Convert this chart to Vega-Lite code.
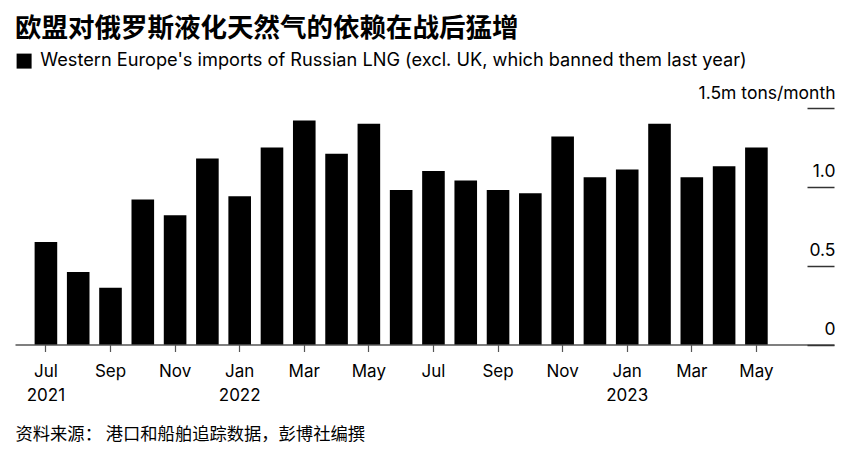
{
  "$schema": "https://vega.github.io/schema/vega-lite/v6.json",
  "width": 819,
  "height": 236.5,
  "autosize": {"type": "none"},
  "padding": {"left": 15, "top": 108, "right": 28, "bottom": 115.5},
  "background": "#ffffff",
  "title": {
    "text": "欧盟对俄罗斯液化天然气的依赖在战后猛增",
    "anchor": "start",
    "frame": "group",
    "font": "Noto Sans CJK SC",
    "fontSize": 26.5,
    "fontWeight": "bold",
    "color": "#000000",
    "offset": 10
  },
  "data": {
    "values": [
      {"month": "2021-07", "value": 0.65, "series": "Western Europe's imports of Russian LNG (excl. UK, which banned them last year)"},
      {"month": "2021-08", "value": 0.46, "series": "Western Europe's imports of Russian LNG (excl. UK, which banned them last year)"},
      {"month": "2021-09", "value": 0.36, "series": "Western Europe's imports of Russian LNG (excl. UK, which banned them last year)"},
      {"month": "2021-10", "value": 0.92, "series": "Western Europe's imports of Russian LNG (excl. UK, which banned them last year)"},
      {"month": "2021-11", "value": 0.82, "series": "Western Europe's imports of Russian LNG (excl. UK, which banned them last year)"},
      {"month": "2021-12", "value": 1.18, "series": "Western Europe's imports of Russian LNG (excl. UK, which banned them last year)"},
      {"month": "2022-01", "value": 0.94, "series": "Western Europe's imports of Russian LNG (excl. UK, which banned them last year)"},
      {"month": "2022-02", "value": 1.25, "series": "Western Europe's imports of Russian LNG (excl. UK, which banned them last year)"},
      {"month": "2022-03", "value": 1.42, "series": "Western Europe's imports of Russian LNG (excl. UK, which banned them last year)"},
      {"month": "2022-04", "value": 1.21, "series": "Western Europe's imports of Russian LNG (excl. UK, which banned them last year)"},
      {"month": "2022-05", "value": 1.40, "series": "Western Europe's imports of Russian LNG (excl. UK, which banned them last year)"},
      {"month": "2022-06", "value": 0.98, "series": "Western Europe's imports of Russian LNG (excl. UK, which banned them last year)"},
      {"month": "2022-07", "value": 1.10, "series": "Western Europe's imports of Russian LNG (excl. UK, which banned them last year)"},
      {"month": "2022-08", "value": 1.04, "series": "Western Europe's imports of Russian LNG (excl. UK, which banned them last year)"},
      {"month": "2022-09", "value": 0.98, "series": "Western Europe's imports of Russian LNG (excl. UK, which banned them last year)"},
      {"month": "2022-10", "value": 0.96, "series": "Western Europe's imports of Russian LNG (excl. UK, which banned them last year)"},
      {"month": "2022-11", "value": 1.32, "series": "Western Europe's imports of Russian LNG (excl. UK, which banned them last year)"},
      {"month": "2022-12", "value": 1.06, "series": "Western Europe's imports of Russian LNG (excl. UK, which banned them last year)"},
      {"month": "2023-01", "value": 1.11, "series": "Western Europe's imports of Russian LNG (excl. UK, which banned them last year)"},
      {"month": "2023-02", "value": 1.40, "series": "Western Europe's imports of Russian LNG (excl. UK, which banned them last year)"},
      {"month": "2023-03", "value": 1.06, "series": "Western Europe's imports of Russian LNG (excl. UK, which banned them last year)"},
      {"month": "2023-04", "value": 1.13, "series": "Western Europe's imports of Russian LNG (excl. UK, which banned them last year)"},
      {"month": "2023-05", "value": 1.25, "series": "Western Europe's imports of Russian LNG (excl. UK, which banned them last year)"}
    ]
  },
  "mark": {"type": "bar"},
  "encoding": {
    "x": {
      "field": "month",
      "type": "ordinal",
      "scale": {
        "domain": ["2021-07","2021-08","2021-09","2021-10","2021-11","2021-12","2022-01","2022-02","2022-03","2022-04","2022-05","2022-06","2022-07","2022-08","2022-09","2022-10","2022-11","2022-12","2023-01","2023-02","2023-03","2023-04","2023-05","2023-06","2023-07"],
        "paddingInner": 0.3,
        "paddingOuter": 0.33,
        "align": 0.92
      },
      "axis": {
        "title": "资料来源：  港口和船舶追踪数据，彭博社编撰",
        "titleFont": "Noto Sans CJK SC",
        "titleFontSize": 17.3,
        "titleFontWeight": "normal",
        "titleColor": "#000000",
        "titleAnchor": "start",
        "titleAlign": "left",
        "titlePadding": 22,
        "values": ["2021-07","2021-09","2021-11","2022-01","2022-03","2022-05","2022-07","2022-09","2022-11","2023-01","2023-03","2023-05"],
        "labelExpr": "[utcFormat(toDate(datum.value + '-01T00:00:00Z'), '%b'), (datum.value == '2021-07' || slice(datum.value, 5) == '01') ? slice(datum.value, 0, 4) : '']",
        "labelAngle": 0,
        "labelFont": "Inter",
        "labelFontSize": 17,
        "labelColor": "#000000",
        "labelLineHeight": 24,
        "labelPadding": 12,
        "labelBaseline": "top",
        "domainColor": "#555555",
        "domainWidth": 1.5,
        "tickColor": "#555555",
        "tickSize": 7,
        "tickWidth": 1.2,
        "grid": false
      }
    },
    "y": {
      "field": "value",
      "type": "quantitative",
      "scale": {"domain": [0, 1.5], "nice": false},
      "axis": {
        "orient": "right",
        "title": null,
        "values": [0, 0.5, 1, 1.5],
        "labelExpr": "datum.value == 1.5 ? '1.5m tons/month' : datum.value == 0 ? '0' : format(datum.value, '.1f')",
        "domain": false,
        "grid": false,
        "ticks": true,
        "tickSize": -27,
        "tickColor": "#333333",
        "tickWidth": 1.5,
        "labelAlign": "right",
        "labelBaseline": "bottom",
        "labelPadding": 28,
        "labelOffset": -6,
        "labelFont": "Inter",
        "labelFontSize": 17.5,
        "labelColor": "#000000"
      }
    },
    "color": {
      "field": "series",
      "type": "nominal",
      "scale": {"range": ["#000000"]},
      "legend": {
        "title": null,
        "orient": "none",
        "legendX": 0,
        "legendY": -56,
        "symbolType": "square",
        "symbolSize": 225,
        "symbolStrokeWidth": 0,
        "labelFont": "Inter",
        "labelFontSize": 18.2,
        "labelColor": "#000000",
        "labelOffset": 7,
        "labelLimit": 820,
        "padding": 0
      }
    }
  },
  "config": {
    "view": {"stroke": null}
  }
}
